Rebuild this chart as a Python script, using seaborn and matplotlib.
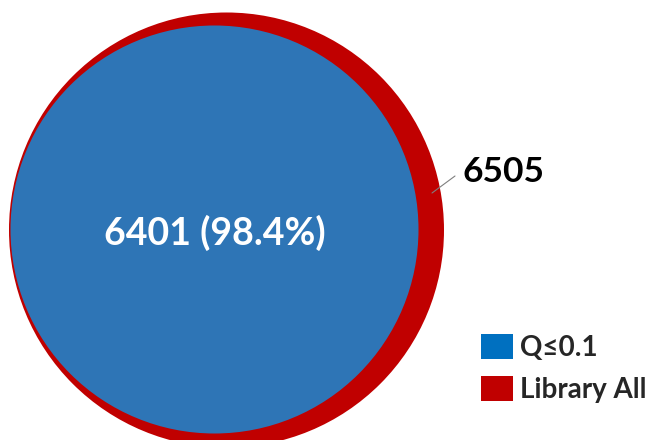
import matplotlib
matplotlib.use("Agg")
import matplotlib.pyplot as plt
from matplotlib.patches import Circle, Patch
import seaborn as sns

# ---- data ----
set_names = ["Library All", "Q≤0.1"]
set_counts = [6505, 6401]
center_label = "6401 (98.4%)"
outer_label = "6505"

sns.set_theme(style="white")
plt.rcParams['font.family'] = ['Lato', 'DejaVu Sans']

W, H = 646, 440
fig = plt.figure(figsize=(W / 100, H / 100), dpi=100)
ax = fig.add_axes([0, 0, 1, 1])
ax.set_xlim(0, W)
ax.set_ylim(H, 0)
ax.axis("off")

circle_colors = {"Library All": "#C00000", "Q≤0.1": "#2E75B6"}
legend_colors = {"Library All": "#C00000", "Q≤0.1": "#0070C0"}
# display radii (px) for the two sets; both tangent on the left edge
radius = {"Library All": 217.5, "Q≤0.1": 204.0}
left_edge = {"Library All": 9.0, "Q≤0.1": 10.5}
cy = {"Library All": 230.0, "Q≤0.1": 229.5}

for name in set_names:
    r = radius[name]
    ax.add_patch(Circle((left_edge[name] + r, cy[name]), r,
                        facecolor=circle_colors[name], edgecolor="none", zorder=2))

ax.text(215, 233, center_label, color="white", fontsize=27, fontweight="bold",
        ha="center", va="center", zorder=5)

ax.plot([432, 455], [193, 176], color="#7f7f7f", lw=0.8, zorder=4)
ax.text(462, 172, outer_label, color="black", fontsize=25.5, fontweight="bold",
        ha="left", va="center", zorder=5)

handles = [Patch(facecolor=legend_colors[n], edgecolor="none", label=n)
           for n in ["Q≤0.1", "Library All"]]
leg = ax.legend(handles=handles, loc="upper left", bbox_to_anchor=(481, 334),
                bbox_transform=ax.transData, frameon=False, borderpad=0,
                borderaxespad=0, handlelength=1.15, handleheight=1.0,
                handletextpad=0.25, labelspacing=0.55,
                prop={"family": ['Lato', 'DejaVu Sans'], "weight": "bold", "size": 20})

fig.savefig("out.png", dpi=100)
